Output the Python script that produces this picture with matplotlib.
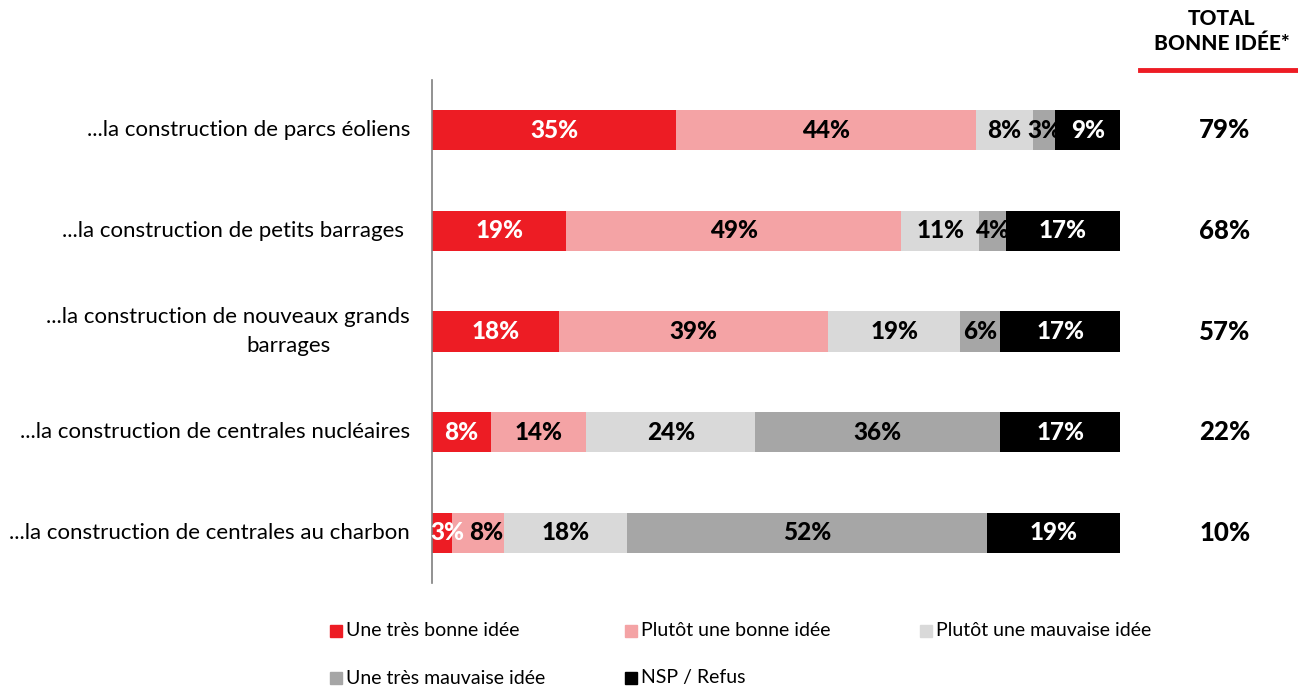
import matplotlib.pyplot as plt
from matplotlib.patches import Rectangle

plt.rcParams['font.family'] = ['Lato', 'DejaVu Sans']

categories = [
    "...la construction de parcs éoliens",
    "...la construction de petits barrages ",
    "...la construction de nouveaux grands\nbarrages",
    "...la construction de centrales nucléaires",
    "...la construction de centrales au charbon",
]
series_names = ["Une très bonne idée", "Plutôt une bonne idée", "Plutôt une mauvaise idée",
                "Une très mauvaise idée", "NSP / Refus"]
colors = ["#ED1C24", "#F4A3A5", "#D9D9D9", "#A6A6A6", "#000000"]
text_colors = ["white", "black", "black", "black", "white"]

# widths (percent)
tres_bonne = [35.5, 19.5, 18.5, 8.6, 2.9]
plutot_bonne = [43.6, 48.7, 39.1, 13.8, 7.6]
plutot_mauvaise = [8.2, 11.3, 19.2, 24.6, 17.9]
tres_mauvaise = [3.3, 3.9, 5.8, 35.6, 52.3]
nsp = [9.4, 16.6, 17.4, 17.4, 19.3]

# printed labels
lab_tres_bonne = [35, 19, 18, 8, 3]
lab_plutot_bonne = [44, 49, 39, 14, 8]
lab_plutot_mauvaise = [8, 11, 19, 24, 18]
lab_tres_mauvaise = [3, 4, 6, 36, 52]
lab_nsp = [9, 17, 17, 17, 19]

total_bonne = [79, 68, 57, 22, 10]

series = [tres_bonne, plutot_bonne, plutot_mauvaise, tres_mauvaise, nsp]
labels = [lab_tres_bonne, lab_plutot_bonne, lab_plutot_mauvaise, lab_tres_mauvaise, lab_nsp]

W, H = 1298, 688
fig = plt.figure(figsize=(W / 100, H / 100), dpi=100)
ax = fig.add_axes([432 / W, 1 - 583 / H, (1120 - 432) / W, (583 - 80) / H])

ypos = list(range(len(categories)))
left = [0] * len(categories)
prev_end = [-1.0] * len(categories)
for vals, labs, c, tc in zip(series, labels, colors, text_colors):
    ax.barh(ypos, vals, left=left, height=0.4, color=c)
    for i, (y, v, l, lab) in enumerate(zip(ypos, vals, left, labs)):
        txt = f"{lab}%"
        half_w = 1.15 * len(txt)
        # push tiny-segment labels right so they don't run into each other
        x = max(l + v / 2, prev_end[i] + half_w + 1.0)
        prev_end[i] = x + half_w
        ax.text(x, y, txt, ha='center', va='center', color=tc,
                fontsize=17.5, fontweight='black')
    left = [a + b for a, b in zip(left, vals)]

ax.set_xlim(0, 100)
ax.set_ylim(4.5, -0.5)
ax.set_xticks([])
ax.set_yticks([])
for s in ['top', 'right', 'bottom']:
    ax.spines[s].set_visible(False)
ax.spines['left'].set_color('#7F7F7F')
ax.spines['left'].set_linewidth(1.2)

for y, cat in zip(ypos, categories):
    lines = cat.split("\n")
    if len(lines) == 1:
        ax.text(-3.2, y, cat, ha='right', va='center', fontsize=16, color='black')
    else:
        ax.text(-3.2, y - 0.14, lines[0], ha='right', va='center', fontsize=16)
        ax.text(-14.8, y + 0.14, lines[1], ha='right', va='center', fontsize=16)

for y, t in zip(ypos, total_bonne):
    ax.annotate(f"{t}%", xy=(1225 / W, y), xycoords=('figure fraction', 'data'),
                ha='center', va='center', fontsize=18.5, fontweight='black')

fig.text(1222 / W, 1 - 31 / H, "TOTAL\nBONNE IDÉE*", ha='center', va='center',
         fontsize=15, fontweight='black', linespacing=1.35)
fig.add_artist(plt.Line2D([1140 / W, 1], [1 - 70 / H, 1 - 70 / H], color='#ED1C24',
                          linewidth=3.5, transform=fig.transFigure))

# legend
leg_pos = [(330, 631), (625, 631), (920, 631), (330, 678), (625, 678)]
for (x, y), name, c in zip(leg_pos, series_names, colors):
    fig.add_artist(Rectangle((x / W, 1 - (y + 6) / H), 12 / W, 12 / H, color=c,
                             transform=fig.transFigure))
    fig.text((x + 16) / W, 1 - y / H, name, ha='left', va='center', fontsize=14)

fig.savefig("out.png", dpi=100)
